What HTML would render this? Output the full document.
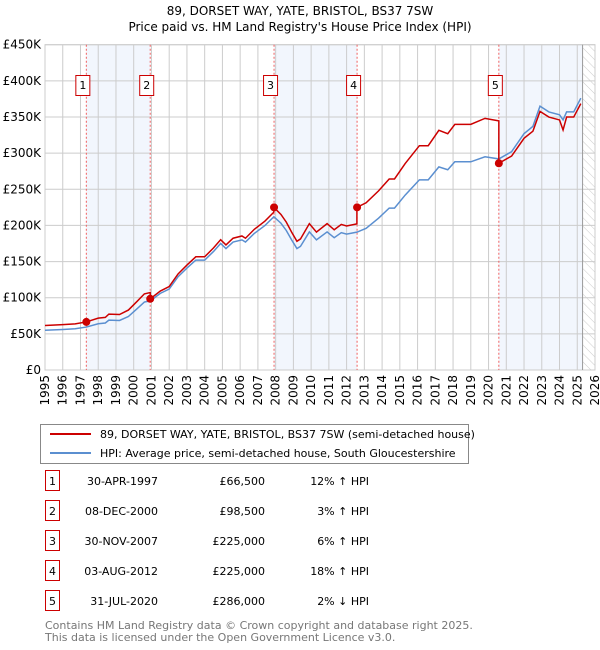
<!DOCTYPE html>
<html><head><meta charset="utf-8"><style>
body{margin:0;background:#fff;width:600px;height:650px;overflow:hidden;font-family:"DejaVu Sans","Liberation Sans",sans-serif}
svg{display:block}
</style></head><body>
<svg id="chart" width="600" height="650" viewBox="0 0 600 650" xmlns="http://www.w3.org/2000/svg" font-family="DejaVu Sans, Liberation Sans, sans-serif">
<defs>
<pattern id="hatch" patternUnits="userSpaceOnUse" width="6" height="6" patternTransform="rotate(-45)">
<line x1="0" y1="0" x2="0" y2="6" stroke="#ccc" stroke-width="1"/>
</pattern>
</defs>
<text x="300" y="15" text-anchor="middle" font-size="12">89, DORSET WAY, YATE, BRISTOL, BS37 7SW</text>
<text x="300" y="31" text-anchor="middle" font-size="12">Price paid vs. HM Land Registry's House Price Index (HPI)</text>
<g id="bands"></g>
<g id="grid"></g>
<g id="series"></g>
<g id="markers"></g>
<g id="axes"></g>
<g>
<rect x="40.5" y="424.5" width="428" height="39" fill="#fff" stroke="#888"/>
<line x1="50" y1="434" x2="91" y2="434" stroke="#cc0000" stroke-width="2"/>
<text x="100" y="438" font-size="11">89, DORSET WAY, YATE, BRISTOL, BS37 7SW (semi-detached house)</text>
<line x1="50" y1="453" x2="91" y2="453" stroke="#5b8fd0" stroke-width="2"/>
<text x="100" y="457" font-size="11">HPI: Average price, semi-detached house, South Gloucestershire</text>
</g>
<g id="table" font-size="11"></g>
<text x="45" y="629" font-size="11" fill="#777">Contains HM Land Registry data © Crown copyright and database right 2025.</text>
<text x="45" y="641" font-size="11" fill="#777">This data is licensed under the Open Government Licence v3.0.</text>
</svg>
<script>
const hpiDates=[1995.0,1996.0,1996.7,1997.33,1998.0,1998.4,1998.6,1999.2,1999.7,2000.2,2000.6,2000.93,2001.5,2002.0,2002.5,2003.0,2003.5,2004.0,2004.5,2004.9,2005.2,2005.6,2006.1,2006.3,2006.8,2007.4,2007.9,2008.3,2008.6,2008.9,2009.2,2009.4,2009.9,2010.3,2010.9,2011.3,2011.7,2012.0,2012.58,2013.1,2013.8,2014.4,2014.7,2015.3,2016.1,2016.6,2017.2,2017.7,2018.1,2019.0,2019.8,2020.58,2021.3,2022.0,2022.5,2022.9,2023.4,2024.0,2024.2,2024.4,2024.8,2025.2];
const hpiValues=[55,56,57,59.4,64,65,69,68.5,74,85,94,95.6,106,112,129,141,152,152,164,175,168,177,180,177,189,200,212,203,193,180,168,171,191,180,191,183,190,188,190.7,196,210,224,224,242,263,263,281,277,288,288,295,292,302,327,337,365,357,353,346,357,357,376];
const redDates=[1995.0,1996.0,1996.7,1997.33,1998.0,1998.4,1998.6,1999.2,1999.7,2000.2,2000.6,2000.93,2000.93,2001.5,2002.0,2002.5,2003.0,2003.5,2004.0,2004.5,2004.9,2005.2,2005.6,2006.1,2006.3,2006.8,2007.4,2007.9,2007.9,2008.3,2008.6,2008.9,2009.2,2009.4,2009.9,2010.3,2010.9,2011.3,2011.7,2012.0,2012.58,2012.58,2013.1,2013.8,2014.4,2014.7,2015.3,2016.1,2016.6,2017.2,2017.7,2018.1,2019.0,2019.8,2020.58,2020.58,2021.3,2022.0,2022.5,2022.9,2023.4,2024.0,2024.2,2024.4,2024.8,2025.2];
const redValues=[61.6,62.7,63.8,66.5,71.7,72.8,77.3,76.7,82.9,95.2,105.3,107.1,98.5,109.2,115.4,132.9,145.2,156.6,156.6,168.9,180.3,173,182.3,185.4,182.3,194.7,206,218.4,225,215.2,204.6,190.8,178.1,181.3,202.5,190.8,202.5,194,201.4,199.3,202.1,225,231.3,247.8,264.3,264.3,285.6,310.3,310.3,331.6,326.9,339.8,339.8,348.1,344.6,286,296,320.5,330.3,357.7,349.9,345.9,332,349.9,349.9,368.5];
const saleDates=[1997.33,2000.93,2007.91,2012.59,2020.58];
const saleValues=[66.5,98.5,225,225,286];
const saleLabels=["1","2","3","4","5"];
const saleDateText=["30-APR-1997","08-DEC-2000","30-NOV-2007","03-AUG-2012","31-JUL-2020"];
const salePriceText=["£66,500","£98,500","£225,000","£225,000","£286,000"];
const saleHpiText=["12% ↑ HPI","3% ↑ HPI","6% ↑ HPI","18% ↑ HPI","2% ↓ HPI"];
const yTicks=[0,50,100,150,200,250,300,350,400,450];
const yTickLabels=["£0","£50K","£100K","£150K","£200K","£250K","£300K","£350K","£400K","£450K"];
const xTicks=[1995,1996,1997,1998,1999,2000,2001,2002,2003,2004,2005,2006,2007,2008,2009,2010,2011,2012,2013,2014,2015,2016,2017,2018,2019,2020,2021,2022,2023,2024,2025,2026];
const dataEnd=2025.3;

const L=45,R=595,T=44.7,B=370;
const xs=d=>L+(d-1995)/(2026-1995)*(R-L);
const ys=v=>B-v/450*(B-T);
const NS="http://www.w3.org/2000/svg";
function mk(tag,attrs,parent,txt){const e=document.createElementNS(NS,tag);for(const k in attrs)e.setAttribute(k,attrs[k]);if(txt!==undefined)e.textContent=txt;parent.appendChild(e);return e;}
const bands=document.getElementById('bands'),grid=document.getElementById('grid'),series=document.getElementById('series'),markers=document.getElementById('markers'),axes=document.getElementById('axes'),table=document.getElementById('table');

for(let i=0;i<saleDates.length;i+=2){
 const x0=xs(saleDates[i]),x1=i+1<saleDates.length?xs(saleDates[i+1]):xs(dataEnd);
 const r=mk('rect',{x:x0,y:T,width:x1-x0,height:B-T,fill:'#f2f6fd'},bands);
 
 
}
const h=mk('rect',{x:xs(dataEnd),y:T,width:R-xs(dataEnd),height:B-T,fill:'url(#hatch)'},bands);



xTicks.forEach(t=>{const l=mk('line',{x1:xs(t),x2:xs(t),y1:T,y2:B,stroke:'#ccc','stroke-width':1},grid);
 
 });
yTicks.forEach(t=>{const l=mk('line',{x1:L,x2:R,y1:ys(t),y2:ys(t),stroke:'#ccc','stroke-width':1},grid);
 
 });
const fr=mk('rect',{x:L,y:T,width:R-L,height:B-T,fill:'none',stroke:'#ccc'},grid);


const el=mk('line',{x1:xs(dataEnd),x2:xs(dataEnd),y1:T,y2:B,stroke:'#999','stroke-width':1},grid);



saleDates.forEach(d=>{const l=mk('line',{x1:xs(d),x2:xs(d),y1:T,y2:B,stroke:'#f06060','stroke-width':1,'stroke-dasharray':'2,2'},grid);
 
 });

const hp=mk('polyline',{points:hpiDates.map((d,i)=>xs(d)+','+ys(hpiValues[i])).join(' '),fill:'none',stroke:'#5b8fd0','stroke-width':1.5},series);


const rp=mk('polyline',{points:redDates.map((d,i)=>xs(d)+','+ys(redValues[i])).join(' '),fill:'none',stroke:'#cc0000','stroke-width':1.5},series);



saleDates.forEach((d,i)=>{
 const c=mk('circle',{cx:xs(d),cy:ys(saleValues[i]),r:4,fill:'#cc0000'},markers);
 
 
 const g=mk('g',{},markers);
 
 
 mk('rect',{x:xs(d)-10.5,y:75.5,width:14,height:20,fill:'#fff',stroke:'#cc0000'},g);
 mk('text',{x:xs(d)-3.5,y:89,'text-anchor':'middle','font-size':11},g,saleLabels[i]);
});

yTicks.forEach((t,i)=>{const tx=mk('text',{x:L-4,y:ys(t)+4,'text-anchor':'end','font-size':12},axes,yTickLabels[i]);
 
 });
xTicks.forEach(t=>{const tx=mk('text',{transform:`translate(${xs(t)+4},${B+5}) rotate(-90)`,'text-anchor':'end','font-size':12},axes,String(t));
 
 });

saleLabels.forEach((lab,i)=>{
 const y=483+i*30;
 const g=mk('g',{},table);
 
 
 mk('rect',{x:45.5,y:y-12.5,width:14,height:20,fill:'#fff',stroke:'#cc0000'},g);
 mk('text',{x:52.5,y:y+2,'text-anchor':'middle'},g,lab);
 mk('text',{x:158,y:y+2,'text-anchor':'end'},g,saleDateText[i]);
 mk('text',{x:265,y:y+2,'text-anchor':'end'},g,salePriceText[i]);
 mk('text',{x:369,y:y+2,'text-anchor':'end'},g,saleHpiText[i]);
});
</script>
</body></html>
